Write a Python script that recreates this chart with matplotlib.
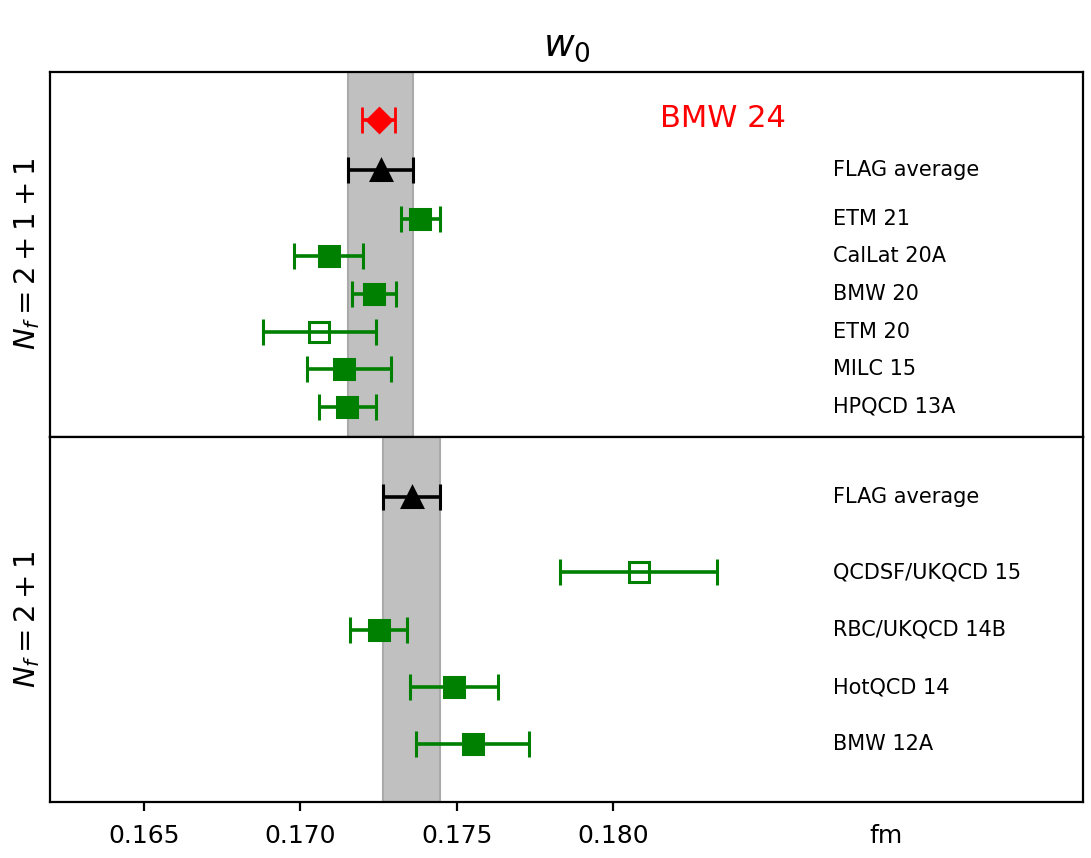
import numpy as np
import matplotlib
matplotlib.use('Agg')
import matplotlib.pyplot as plt

# Nf = 2+1+1
top_names = ['ETM 21', 'CalLat 20A', 'BMW 20', 'ETM 20', 'MILC 15', 'HPQCD 13A']
top_vals = [0.17383, 0.1709, 0.17236, 0.1706, 0.1714, 0.1715]
top_err_lo = [0.00063, 0.0011, 0.0007, 0.0018, 0.0012, 0.0009]
top_err_hi = [0.00063, 0.0011, 0.0007, 0.0018, 0.0015, 0.0009]
top_filled = [True, True, True, False, True, True]
flag_top = 0.17256
flag_top_err = 0.00103
bmw24 = 0.17250
bmw24_err = 0.00052

# Nf = 2+1
bot_names = ['QCDSF/UKQCD 15', 'RBC/UKQCD 14B', 'HotQCD 14', 'BMW 12A']
bot_vals = [0.1808, 0.1725, 0.1749, 0.1755]
bot_err = [0.0025, 0.00091, 0.0014, 0.0018]
bot_filled = [False, True, True, True]
flag_bot = 0.17355
flag_bot_err = 0.00092

xticks = [0.165, 0.170, 0.175, 0.180]

green = 'green'
ebkw = dict(elinewidth=2.6, capsize=9.5, capthick=2.6, markersize=14, markeredgewidth=2.2)
label_x = 0.187
label_fs = 15

fig = plt.figure(figsize=(10.91, 8.58), dpi=100)
ax1 = fig.add_axes([0.0458, 0.4907, 0.9469, 0.4254])
ax2 = fig.add_axes([0.0458, 0.0653, 0.9469, 0.4254], sharex=ax1)

# top panel
ax1.axvspan(flag_top - flag_top_err, flag_top + flag_top_err, facecolor='#c0c0c0', edgecolor='#aaaaaa', lw=1.5, zorder=0)
ypos = np.arange(len(top_names), 0, -1)
for i in range(len(top_names)):
    mfc = green if top_filled[i] else 'none'
    ax1.errorbar(top_vals[i], ypos[i], xerr=[[top_err_lo[i]], [top_err_hi[i]]], fmt='s',
                 color=green, mfc=mfc, mec=green, **ebkw)
    ax1.text(label_x, ypos[i], top_names[i], fontsize=label_fs, va='center')
ax1.errorbar(flag_top, 7.3, xerr=flag_top_err, fmt='^', color='black', **ebkw)
ax1.text(label_x, 7.3, 'FLAG average', fontsize=label_fs, va='center')
ax1.errorbar(bmw24, 8.63, xerr=bmw24_err, fmt='D', color='red', elinewidth=2.6, capsize=9.5,
             capthick=2.6, markersize=12, markeredgewidth=2)
ax1.text(0.1815, 8.66, 'BMW 24', fontsize=22, color='red', va='center')
ax1.set_ylim(0.2, 9.9)
ax1.set_ylabel('$N_f = 2+1+1$', fontsize=21, labelpad=6)
ax1.set_title('$w_0$', fontsize=27, pad=12)

# bottom panel
ax2.axvspan(flag_bot - flag_bot_err, flag_bot + flag_bot_err, facecolor='#c0c0c0', edgecolor='#aaaaaa', lw=1.5, zorder=0)
ypos2 = np.arange(len(bot_names), 0, -1)
for i in range(len(bot_names)):
    mfc = green if bot_filled[i] else 'none'
    ax2.errorbar(bot_vals[i], ypos2[i], xerr=bot_err[i], fmt='s', color=green, mfc=mfc, mec=green, **ebkw)
    ax2.text(label_x, ypos2[i], bot_names[i], fontsize=label_fs, va='center')
ax2.errorbar(flag_bot, 5.3, xerr=flag_bot_err, fmt='^', color='black', **ebkw)
ax2.text(label_x, 5.3, 'FLAG average', fontsize=label_fs, va='center')
ax2.set_ylim(0, 6.35)
ax2.set_ylabel('$N_f = 2+1$', fontsize=21, labelpad=6)

ax1.set_xlim(0.162, 0.195)
ax2.set_xticks(xticks + [0.1887])
ax2.set_xticklabels(['%.3f' % t for t in xticks] + ['fm'])
ax2.tick_params(axis='x', labelsize=18, length=6.5, width=1.6, pad=9)
ax2.xaxis.get_major_ticks()[-1].tick1line.set_visible(False)
ax1.tick_params(axis='x', bottom=False, labelbottom=False)
for ax in (ax1, ax2):
    ax.set_yticks([])
    for s in ax.spines.values():
        s.set_linewidth(1.6)

fig.savefig('out.png', dpi=100)
